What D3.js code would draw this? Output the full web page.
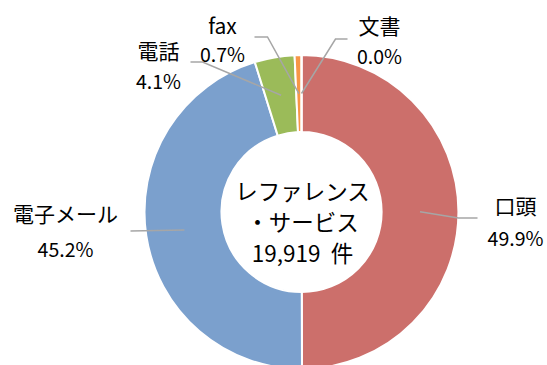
<!DOCTYPE html>
<html>
<head>
<meta charset="utf-8">
<script src="https://cdn.jsdelivr.net/npm/d3@7"></script>
<style>
  html, body { margin: 0; padding: 0; background: #fff; }
  svg { display: block; }
  text { font-family: "Noto Sans CJK JP", "Noto Sans", sans-serif; fill: #000; }
</style>
</head>
<body>
<svg id="chart" width="547" height="365"></svg>
<script>
// Reference-service enquiries by channel (percent of all cases)
const categories = ["口頭", "電子メール", "電話", "fax", "文書"];
const shares = [49.9, 45.2, 4.1, 0.7, 0.0];
const shareLabels = ["49.9%", "45.2%", "4.1%", "0.7%", "0.0%"];
const colors = ["#CC6F6B", "#7BA0CD", "#9BBB59", "#F79646", "#8064A2"];
const centerLines = ["レファレンス", "・サービス", "19,919\u00a0\u00a0件"];

// Label placement: elbow point, end of leader, and text anchor (relative to chart centre)
const labelLayout = [
  { elbow: [157, 6],  end: [176, 6],   text: [214, -7],  gap: 32 },
  { elbow: null,      end: [-171, 19], text: [-236, 1],  gap: 35 },
  { elbow: [-99, -150], end: [-111, -150], text: [-143, -162], gap: 30 },
  { elbow: [-34, -175], end: [-47, -175], text: [-79, -187], gap: 28 },
  { elbow: [34, -173], end: [46, -173],  text: [78, -187],  gap: 30 }
];

const svg = d3.select("#chart");
const cx = 301.5, cy = 212;
const outerR = 157, innerR = 80;

const g = svg.append("g").attr("transform", `translate(${cx},${cy})`);

const pie = d3.pie().value(d => d.value).sort(null);
const arc = d3.arc().innerRadius(innerR).outerRadius(outerR);

const data = categories.map((c, i) => ({ name: c, value: shares[i], label: shareLabels[i], color: colors[i], layout: labelLayout[i] }));
const arcs = pie(data);

g.selectAll("path.slice")
  .data(arcs)
  .join("path")
  .attr("class", "slice")
  .attr("d", arc)
  .attr("fill", d => d.data.color)
  .attr("stroke", "#fff")
  .attr("stroke-width", 2)
  .attr("stroke-linejoin", "miter");

// Leader lines from each slice centroid to its label
const line = d3.line();
g.selectAll("path.leader")
  .data(arcs)
  .join("path")
  .attr("class", "leader")
  .attr("fill", "none")
  .attr("stroke", "#A6A6A6")
  .attr("stroke-width", 1.5)
  .attr("d", d => {
    const pts = [arc.centroid(d)];
    if (d.data.layout.elbow) pts.push(d.data.layout.elbow);
    pts.push(d.data.layout.end);
    return line(pts);
  });

// Category name and percentage
const labels = g.selectAll("g.label")
  .data(arcs)
  .join("g")
  .attr("class", "label")
  .attr("transform", d => `translate(${d.data.layout.text[0]},${d.data.layout.text[1]})`);

labels.append("text")
  .attr("text-anchor", "middle")
  .attr("dominant-baseline", "central")
  .attr("font-size", 21)
  .text(d => d.data.name);

labels.append("text")
  .attr("text-anchor", "middle")
  .attr("dominant-baseline", "central")
  .attr("y", d => d.data.layout.gap)
  .attr("font-size", 19.5)
  .text(d => d.data.label);

// Centre caption
g.selectAll("text.center")
  .data(centerLines)
  .join("text")
  .attr("class", "center")
  .attr("text-anchor", "middle")
  .attr("dominant-baseline", "central")
  .attr("x", 1)
  .attr("y", (d, i) => -22 + i * 31)
  .attr("font-size", 22.5)
  .text(d => d);
</script>
</body>
</html>
